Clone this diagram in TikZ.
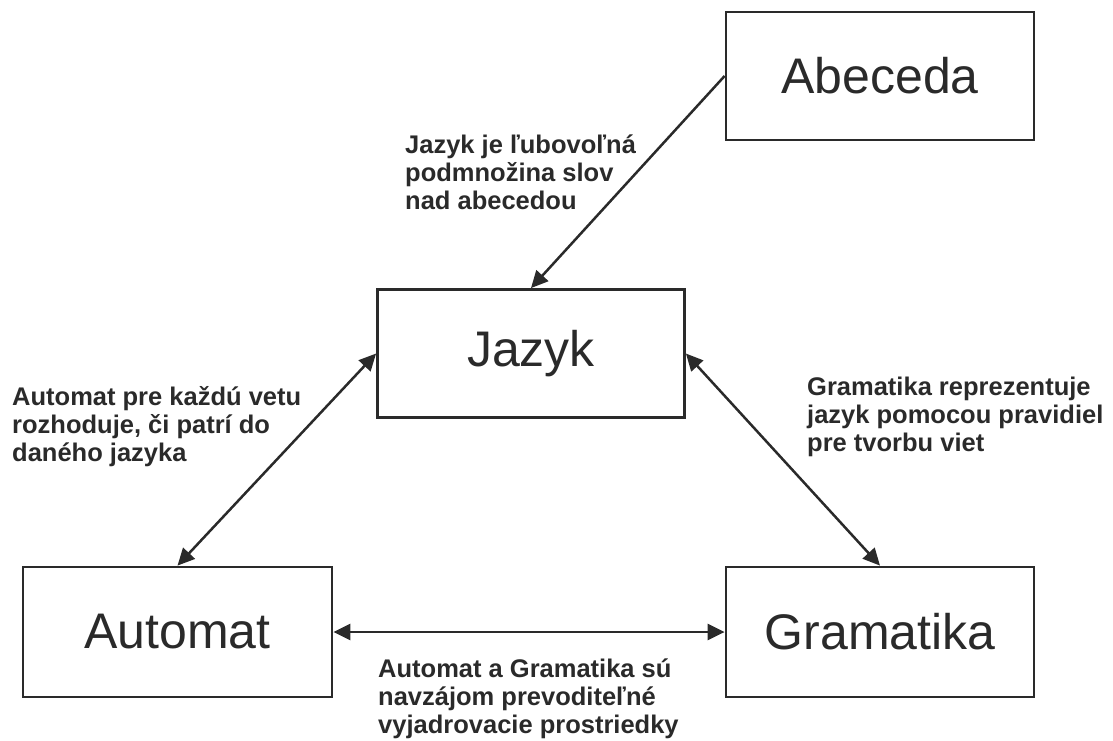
\documentclass[tikz,border=0pt]{standalone}
\usepackage{fontspec}
\setmainfont{Liberation Sans}
\usetikzlibrary{arrows.meta}
\definecolor{ink}{RGB}{42,42,42}
\begin{document}
\begin{tikzpicture}[x=1pt,y=-1pt,
  box/.style={draw=ink,line width=2.8pt,minimum width=#1,inner sep=0pt,
    text=ink,font=\fontsize{50}{56}\selectfont},
  note/.style={anchor=base west,align=left,inner sep=0pt,text=ink,
    font=\fontsize{25.5}{28}\selectfont\bfseries},
  tip/.style={Triangle[length=17pt,width=16pt]},
  link/.style={draw=ink,line width=2.5pt,-{Triangle[length=17pt,width=16pt]}},
  dlink/.style={draw=ink,line width=2.5pt,
    {Triangle[length=17pt,width=16pt]}-{Triangle[length=17pt,width=16pt]}}]
  \useasboundingbox (0,0) rectangle (1113,740);

  % the four concepts
  \node[box=308pt,minimum height=128pt] (abc) at (880,76) {Abeceda};
  \node[box=307pt,minimum height=128pt] (jaz) at (531,353.5) {Jazyk};
  \node[box=309pt,minimum height=130pt] (aut) at (177.5,632) {Automat};
  \node[box=308pt,minimum height=130pt] (gra) at (880,632) {Gramatika};

  % relations between them
  \draw[link] (abc.west) -- (jaz.north);
  \draw[dlink] (aut.north) -- (jaz.west);
  \draw[dlink] (gra.north) -- (jaz.east);
  \draw[dlink] (aut.east) -- (gra.west);

  % explanations (anchored at the baseline of the last line)
  \node[note] (n1) at (405,209) {Jazyk je ľubovoľná\\podmnožina slov\\nad abecedou};
  \node[note] (n2) at (12,461) {Automat pre každú vetu\\rozhoduje, či patrí do\\daného jazyka};
  \node[note] (n3) at (807,451) {Gramatika reprezentuje\\jazyk pomocou pravidiel\\pre tvorbu viet};
  \node[note] (n4) at (378,733) {Automat a Gramatika sú\\navzájom prevoditeľné\\vyjadrovacie prostriedky};
\end{tikzpicture}
\end{document}
